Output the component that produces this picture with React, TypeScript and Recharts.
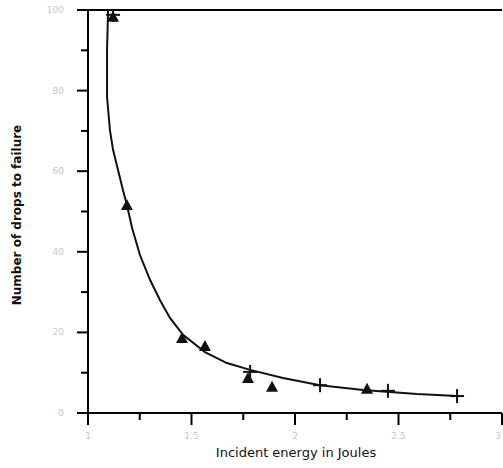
import React from 'react';
import {
  ComposedChart,
  Line,
  Scatter,
  XAxis,
  YAxis,
  ReferenceLine,
} from 'recharts';

// fitted curve
const curveX = [1.097, 1.092, 1.092, 1.106, 1.121, 1.145, 1.169, 1.188, 1.213, 1.251, 1.3, 1.348, 1.396, 1.459, 1.565, 1.671, 1.783, 1.942, 2.121, 2.329, 2.589, 2.783];
const curveY = [100, 90.1, 78.4, 70.2, 65.3, 60.3, 55.3, 51.6, 45.9, 39.2, 33.0, 28.0, 23.6, 19.4, 15.1, 12.4, 10.7, 8.7, 6.9, 5.7, 4.7, 4.2];

// measured points, triangle markers
const triX = [1.121, 1.188, 1.454, 1.565, 1.773, 1.889, 2.348];
const triY = [98.3, 51.6, 18.6, 16.6, 8.7, 6.5, 6.0];

// measured points, cross markers
const crossX = [1.121, 1.783, 2.121, 2.449, 2.783];
const crossY = [98.8, 10.2, 6.9, 5.5, 4.2];

const xTicks = [1, 1.25, 1.5, 1.75, 2, 2.25, 2.5, 2.75, 3];
const xMajor = [1, 1.5, 2, 2.5, 3];
const yTicks = [0, 10, 20, 30, 40, 50, 60, 70, 80, 90, 100];
const yMajor = [0, 20, 40, 60, 80, 100];

const curve = curveX.map((x, i) => ({ x, y: curveY[i] }));
const tris = triX.map((x, i) => ({ x, y: triY[i] }));
const crosses = crossX.map((x, i) => ({ x, y: crossY[i] }));

const TICK_SIZE = 12;
const TICK_MARGIN = 2;

const XTick = (props: any) => {
  const { x, y, payload } = props;
  const axisY = y - TICK_SIZE - TICK_MARGIN;
  const major = xMajor.includes(payload.value);
  const last = payload.value === 3;
  return (
    <g>
      <line x1={x} x2={x} y1={axisY} y2={axisY + (major ? 12 : 7)} stroke="#000" strokeWidth={2} />
      {major && (
        <text x={last ? x - 1 : x} y={axisY + 26} textAnchor={last ? 'end' : 'middle'} fontSize={9} fill="#c8c8c8" fontFamily="DejaVu Sans">
          {payload.value}
        </text>
      )}
    </g>
  );
};

const YTick = (props: any) => {
  const { x, y, payload } = props;
  const axisX = x + TICK_SIZE + TICK_MARGIN;
  const major = yMajor.includes(payload.value);
  return (
    <g>
      <line x1={axisX - (major ? 11 : 7)} x2={axisX} y1={y} y2={y} stroke="#000" strokeWidth={2} />
      {major && (
        <text x={axisX - 24} y={y + 3} textAnchor="end" fontSize={9} fill="#c8c8c8" fontFamily="DejaVu Sans">
          {payload.value}
        </text>
      )}
    </g>
  );
};

const Triangle = (props: any) => {
  const { cx, cy } = props;
  return <path d={`M${cx},${cy - 6} L${cx + 6},${cy + 5} L${cx - 6},${cy + 5} Z`} fill="#111" />;
};

const Cross = (props: any) => {
  const { cx, cy } = props;
  return (
    <g stroke="#111" strokeWidth={2}>
      <line x1={cx - 7} x2={cx + 7} y1={cy} y2={cy} />
      <line x1={cx} x2={cx} y1={cy - 7} y2={cy + 7} />
    </g>
  );
};

export default function App() {
  return (
    <div style={{ position: 'absolute', left: 0, top: 0, width: 503, height: 468, background: '#fff' }}>
      <ComposedChart width={503} height={468} margin={{ top: 10, right: 1, left: 28, bottom: 25 }}>
        <XAxis
          type="number"
          dataKey="x"
          domain={[1, 3]}
          ticks={xTicks}
          interval={0}
          height={30}
          tickSize={TICK_SIZE}
          tickMargin={TICK_MARGIN}
          tickLine={false}
          tick={<XTick />}
          axisLine={{ stroke: '#000', strokeWidth: 2 }}
          allowDataOverflow
        />
        <YAxis
          type="number"
          dataKey="y"
          domain={[0, 100]}
          ticks={yTicks}
          interval={0}
          width={60}
          tickSize={TICK_SIZE}
          tickMargin={TICK_MARGIN}
          tickLine={false}
          tick={<YTick />}
          axisLine={{ stroke: '#000', strokeWidth: 2 }}
          allowDataOverflow
        />
        <ReferenceLine y={100} stroke="#000" strokeWidth={2} />
        <Line
          data={curve}
          dataKey="y"
          type="linear"
          stroke="#111"
          strokeWidth={2}
          dot={false}
          isAnimationActive={false}
        />
        <Scatter data={tris} dataKey="y" shape={<Triangle />} isAnimationActive={false} />
        <Scatter data={crosses} dataKey="y" shape={<Cross />} isAnimationActive={false} />
      </ComposedChart>
      <div
        style={{
          position: 'absolute',
          left: 17,
          top: 215,
          transform: 'translate(-50%, -50%) rotate(-90deg)',
          whiteSpace: 'nowrap',
          fontFamily: 'DejaVu Sans',
          fontWeight: 'bold',
          fontSize: 12,
          color: '#111',
        }}
      >
        Number of drops to failure
      </div>
      <div
        style={{
          position: 'absolute',
          left: 296,
          top: 452,
          transform: 'translate(-50%, -50%)',
          whiteSpace: 'nowrap',
          fontFamily: 'DejaVu Sans',
          fontSize: 13,
          color: '#111',
        }}
      >
        Incident energy in Joules
      </div>
    </div>
  );
}
